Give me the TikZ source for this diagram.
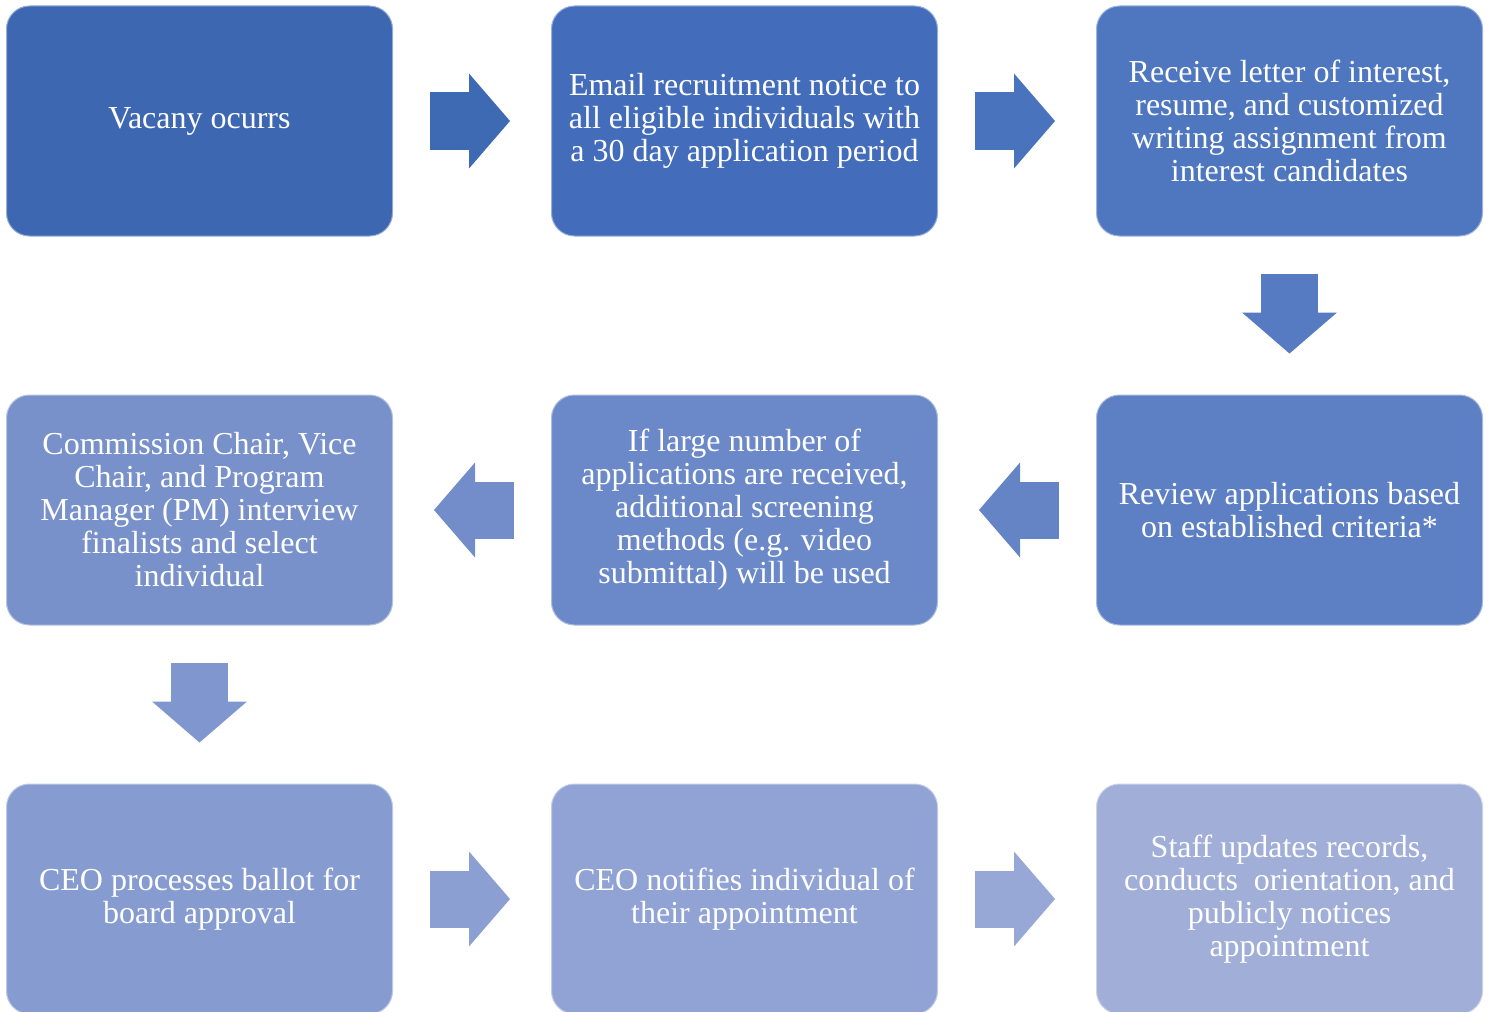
\documentclass[tikz,border=0pt]{standalone}
\usepackage{fontspec}
\setmainfont{Liberation Serif}
\usetikzlibrary{arrows.meta}
\definecolor{stepA}{HTML}{3D68B1}
\definecolor{stepB}{HTML}{436DBB}
\definecolor{stepC}{HTML}{4F77C0}
\definecolor{stepD}{HTML}{5D7FC4}
\definecolor{stepE}{HTML}{6B89C9}
\definecolor{stepF}{HTML}{7891CB}
\definecolor{stepG}{HTML}{869CD1}
\definecolor{stepH}{HTML}{91A3D4}
\definecolor{stepI}{HTML}{A0AED8}
\tikzset{
  stepbox/.style={rectangle, rounded corners=11.5pt, minimum width=193pt,
    minimum height=115pt, inner sep=0pt, align=center, text=white,
    fill=#1, draw=white!45!#1, line width=0.5pt,
    font=\fontsize{16}{16.5}\selectfont},
  flow/.style={draw=#1, line width=28.5pt, shorten <=18.5pt, shorten >=20.5pt,
    -{Triangle[length=20.5pt,width=47.5pt,line width=0pt]}}
}
\begin{document}
\begin{tikzpicture}[x=0.5pt,y=-0.5pt]
        \useasboundingbox (0,0) rectangle (1492,1011);
        \node (s1) [stepbox=stepA] at (199.5,121) {Vacany ocurrs};
        \node (s2) [stepbox=stepB] at (744.5,121) {Email recruitment notice to\\all eligible individuals with\\a 30 day application period};
        \node (s3) [stepbox=stepC] at (1289.5,121) {Receive letter of interest,\\resume, and customized\\writing assignment from\\interest candidates};
        \node (s4) [stepbox=stepD] at (1289.5,510) {Review applications based\\on established criteria*};
        \node (s5) [stepbox=stepE] at (744.5,510) {If large number of\\applications are received,\\additional screening\\methods (e.g. video\\submittal) will be used};
        \node (s6) [stepbox=stepF] at (199.5,510) {Commission Chair, Vice\\Chair, and Program\\Manager (PM) interview\\finalists and select\\individual};
        \node (s7) [stepbox=stepG] at (199.5,899) {CEO processes ballot for\\board approval};
        \node (s8) [stepbox=stepH] at (744.5,899) {CEO notifies individual of\\their appointment};
        \node (s9) [stepbox=stepI] at (1289.5,899) {Staff updates records,\\conducts~ orientation, and\\publicly notices\\appointment};
        \draw [flow=stepA!80!stepB] (s1) -- (s2);
        \draw [flow=stepC!60!stepB] (s2) -- (s3);
        \draw [flow=stepD!50!stepC] (s3) -- (s4);
        \draw [flow=stepE!50!stepD] (s4) -- (s5);
        \draw [flow=stepF!50!stepE] (s5) -- (s6);
        \draw [flow=stepG!50!stepF] (s6) -- (s7);
        \draw [flow=stepH!50!stepG] (s7) -- (s8);
        \draw [flow=stepI!50!stepH] (s8) -- (s9);
\end{tikzpicture}
\end{document}
